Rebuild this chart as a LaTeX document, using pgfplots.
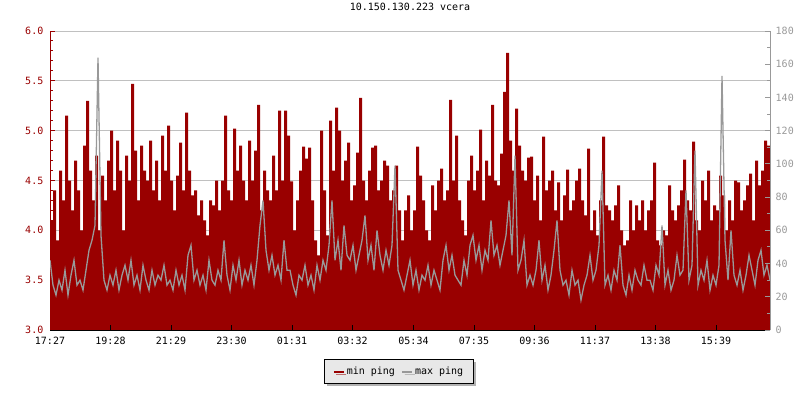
\documentclass[border=0pt]{standalone}
\usepackage{fontspec}
\setmainfont{DejaVu Sans Mono}
\usepackage{pgfplots}
\usepackage{pgfplotstable}
\pgfplotsset{compat=1.18}
\usetikzlibrary{shadows}

\definecolor{minred}{HTML}{990000}
\definecolor{maxgray}{HTML}{999999}
\definecolor{gridgray}{HTML}{C0C0C0}
\definecolor{legbg}{HTML}{E8E8E8}

% one row every 6 minutes from 17:27; mn = min ping (left axis), mx = max ping (right axis, ms)
\pgfplotstableread[row sep=\\]{
mn mx\\
4.1 42\\ 4.4 27\\ 3.9 21\\ 4.6 30\\ 4.3 24\\ 5.15 36\\ 4.5 21\\ 4.2 33\\ 4.7 42\\ 4.4 27\\
4.0 30\\ 4.85 24\\ 5.3 36\\ 4.6 48\\ 4.3 54\\ 4.75 63\\ 4.0 164\\ 4.55 57\\ 4.3 30\\ 4.7 24\\
5.0 33\\ 4.4 27\\ 4.9 36\\ 4.6 24\\ 4.0 33\\ 4.75 39\\ 4.5 30\\ 5.47 42\\ 4.8 27\\ 4.3 33\\
4.85 24\\ 4.6 39\\ 4.5 30\\ 4.9 24\\ 4.4 36\\ 4.7 27\\ 4.3 33\\ 4.95 30\\ 4.6 39\\ 5.05 27\\
4.5 30\\ 4.2 24\\ 4.55 36\\ 4.88 27\\ 4.4 33\\ 5.18 24\\ 4.6 45\\ 4.35 51\\ 4.4 30\\ 4.15 36\\
4.3 27\\ 4.1 33\\ 3.95 24\\ 4.3 42\\ 4.25 30\\ 4.5 27\\ 4.2 36\\ 4.5 30\\ 5.15 54\\ 4.4 33\\
4.3 24\\ 5.02 39\\ 4.6 30\\ 4.85 42\\ 4.5 27\\ 4.3 36\\ 4.9 30\\ 4.5 39\\ 4.8 27\\ 5.26 42\\
4.2 63\\ 4.6 78\\ 4.4 48\\ 4.3 36\\ 4.75 45\\ 4.4 33\\ 5.2 39\\ 4.5 30\\ 5.2 54\\ 4.95 36\\
4.49 36\\ 4.0 27\\ 4.3 21\\ 4.6 33\\ 4.84 30\\ 4.72 39\\ 4.83 27\\ 4.3 33\\ 3.9 24\\ 3.75 39\\
5.0 30\\ 4.4 42\\ 3.95 36\\ 5.1 51\\ 4.6 78\\ 5.23 42\\ 5.0 54\\ 4.5 36\\ 4.7 63\\ 4.88 45\\
4.3 42\\ 4.45 51\\ 4.78 36\\ 5.33 45\\ 4.5 54\\ 4.3 69\\ 4.6 42\\ 4.83 51\\ 4.85 36\\ 4.4 60\\
4.5 45\\ 4.7 36\\ 4.65 48\\ 4.3 39\\ 4.4 51\\ 4.65 99\\ 4.2 36\\ 3.9 30\\ 4.2 24\\ 4.35 33\\
4.0 42\\ 4.2 27\\ 4.84 36\\ 4.55 24\\ 4.3 33\\ 4.0 30\\ 3.9 39\\ 4.45 27\\ 4.2 36\\ 4.5 30\\
4.62 24\\ 4.3 42\\ 4.4 51\\ 5.31 36\\ 4.5 45\\ 4.95 33\\ 4.3 30\\ 4.1 27\\ 3.95 42\\ 4.5 33\\
4.75 51\\ 4.4 57\\ 4.6 42\\ 5.01 51\\ 4.3 36\\ 4.7 48\\ 4.55 42\\ 5.26 66\\ 4.5 45\\ 4.45 51\\
4.77 39\\ 5.39 48\\ 5.78 57\\ 4.9 78\\ 4.6 45\\ 5.22 105\\ 4.85 36\\ 4.6 42\\ 4.5 54\\ 4.73 27\\
4.74 33\\ 4.3 27\\ 4.55 36\\ 4.1 54\\ 4.94 30\\ 4.4 39\\ 4.5 24\\ 4.6 33\\ 4.2 48\\ 4.48 66\\
4.1 36\\ 4.35 27\\ 4.61 30\\ 4.2 21\\ 4.3 36\\ 4.5 27\\ 4.62 30\\ 4.3 18\\ 4.15 27\\ 4.82 33\\
4.0 45\\ 4.2 30\\ 3.95 36\\ 4.3 51\\ 4.94 96\\ 4.25 27\\ 4.2 33\\ 4.1 24\\ 4.25 36\\ 4.45 30\\
4.0 51\\ 3.85 27\\ 3.9 21\\ 4.3 33\\ 4.0 24\\ 4.25 36\\ 4.1 30\\ 4.3 27\\ 4.0 39\\ 4.2 30\\
4.3 30\\ 4.68 24\\ 3.9 39\\ 3.85 33\\ 4.0 63\\ 3.95 27\\ 4.45 36\\ 4.2 24\\ 4.1 30\\ 4.25 45\\
4.4 33\\ 4.71 36\\ 4.3 84\\ 4.2 30\\ 4.89 39\\ 4.1 108\\ 4.0 27\\ 4.5 36\\ 4.3 30\\ 4.6 42\\
4.1 24\\ 4.25 33\\ 4.2 27\\ 4.55 39\\ 4.35 153\\ 4.0 54\\ 4.3 30\\ 4.1 60\\ 4.5 33\\ 4.48 27\\
4.2 36\\ 4.3 24\\ 4.45 33\\ 4.57 45\\ 4.1 36\\ 4.7 27\\ 4.45 42\\ 4.6 48\\ 4.9 33\\ 4.85 39\\
4.6 30\\
}\pingdata

\pgfplotsset{
  pingframe/.style={
    scale only axis, width=720pt, height=299pt,
    at={(50pt,70pt)}, anchor=south west,
    xmin=0, xmax=1440,
    tick align=inside, major tick length=5pt, minor tick length=3pt,
    /pgf/number format/assume math mode=true,
  },
}

\begin{document}
\begin{tikzpicture}
\useasboundingbox (0,0) rectangle (800pt,400pt);

% grid only, behind everything
\begin{axis}[pingframe, ymin=3, ymax=6,
  ytick={3,3.5,...,6}, xtick=\empty, yticklabels={},
  major tick length=0pt, axis line style={draw=none},
  ymajorgrids, grid style={gridgray, line width=1pt}]
\end{axis}

% min ping, left axis
\begin{axis}[pingframe, ymin=3, ymax=6, axis on top,
  axis x line*=bottom, axis y line*=left,
  x axis line style={black, line width=1pt},
  y axis line style={minred, line width=1pt},
  xtick={0,121,242,363,484,605,727,848,969,1090,1211,1332},
  xticklabels={17:27,19:28,21:29,23:30,01:31,03:32,05:34,07:35,09:36,11:37,13:38,15:39},
  xtick style={black, line width=1pt},
  ytick={3,3.5,...,6}, minor y tick num=4,
  ytick style={minred, line width=1pt},
  yticklabel style={minred, inner sep=0pt, xshift=-6.5pt,
    /pgf/number format/.cd, fixed, fixed zerofill, precision=1},
  xticklabel style={inner sep=0pt, yshift=-6.5pt},
  title={10.150.130.223 vcera},
  title style={at={(0.5,1)}, anchor=south, inner sep=0pt, yshift=14pt}]
\addplot[const plot, fill=minred, draw=none]
  table[x expr=\coordindex*6, y=mn] {\pingdata} \closedcycle;
\end{axis}

% max ping, right axis
\begin{axis}[pingframe, ymin=0, ymax=180,
  axis x line=none, axis y line*=right,
  y axis line style={maxgray, line width=1pt},
  ytick={0,20,...,180}, minor y tick num=1,
  ytick style={maxgray, line width=1pt},
  yticklabel style={maxgray, inner sep=0pt, xshift=5.5pt},
  legend columns=2,
  legend image code/.code={\draw[#1, line width=2pt] (0pt,0pt) -- (10pt,0pt);},
  legend style={at={(0.5,0)}, anchor=north, xshift=-11pt, yshift=-29pt,
    draw=black, line width=1pt, fill=legbg,
    drop shadow={shadow xshift=2.5pt, shadow yshift=-2.5pt, fill=black!60},
    inner xsep=8pt, inner ysep=5.5pt,
    nodes={inner sep=2pt},
    /tikz/every even column/.append style={column sep=4pt}}]
\addlegendimage{minred}
\addlegendimage{maxgray}
\addplot[sharp plot, maxgray, line width=1.3pt, forget plot]
  table[x expr=\coordindex*6, y=mx] {\pingdata};
\legend{min ping, max ping\hspace{12pt}}
\end{axis}
\end{tikzpicture}
\end{document}
